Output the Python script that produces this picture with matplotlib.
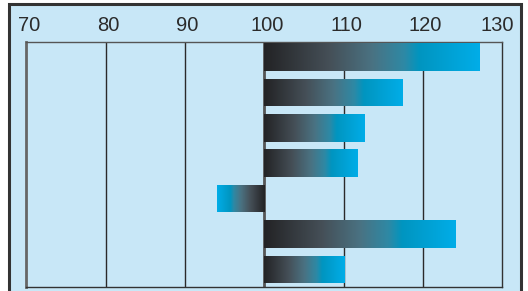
import numpy as np
import matplotlib
matplotlib.use("Agg")
import matplotlib.pyplot as plt
from matplotlib.colors import LinearSegmentedColormap
from matplotlib.patches import Rectangle
from matplotlib.transforms import ScaledTranslation

# Dados do gráfico
base = 100
valores = [127.2, 117.5, 112.7, 111.8, 94.0, 124.1, 110.1]
ticks_x = [70, 80, 90, 100, 110, 120, 130]
linhas_grade = [80, 90, 110, 120]

fundo = "#c8e7f7"
borda = "#333333"

# Gradiente das barras: escuro na base, ciano na ponta
cores = [(0.0, "#232325"), (0.3, "#454f57"), (0.5, "#4a7282"),
         (0.65, "#2e89a5"), (0.72, "#0095c0"), (1.0, "#00ade8")]
cmap = LinearSegmentedColormap.from_list("barra", cores)

fig = plt.figure(figsize=(5.28, 2.91), dpi=100, facecolor="white")

# Moldura externa
W, H = 528, 291
fig.patches.append(Rectangle((8.7 / W, -0.1), (520.8 - 8.7) / W, 1 - 3.7 / H + 0.1,
                             transform=fig.transFigure, facecolor=fundo,
                             edgecolor=borda, lw=2.2, zorder=-10))

ax = fig.add_axes([26.3 / W, 1 - 286.7 / H, (502.3 - 26.3) / W, (286.7 - 41.7) / H])
ax.set_facecolor(fundo)

y = np.arange(len(valores))
altura = 0.78
barras = ax.barh(y, [v - base for v in valores], left=base, height=altura,
                 facecolor="none", edgecolor="none", zorder=3)

grad = np.linspace(0, 1, 256).reshape(1, -1)
for barra, v, yi in zip(barras, valores, y):
    img = ax.imshow(grad, cmap=cmap, aspect="auto", interpolation="bicubic",
                    extent=(base, v, yi + altura / 2, yi - altura / 2), zorder=3)
    img.set_clip_path(barra)

# Linhas de grade verticais
for gx in linhas_grade:
    ax.axvline(gx, color="#2a2a2a", lw=1.0, zorder=2)
ax.axvline(base, color="#555555", lw=2.0, zorder=2)

ax.set_xlim(70, 130)
ax.set_ylim(6.489, -0.432)
ax.set_yticks([])
ax.xaxis.tick_top()
ax.set_xticks(ticks_x)
ax.set_xticklabels([str(t) for t in ticks_x], fontsize=14.5,
                   fontfamily="Liberation Sans", color="#2b2b2b")
ax.tick_params(axis="x", length=0, pad=5)
# rótulos levemente à direita; o último fica para dentro da moldura
for i, rotulo in enumerate(ax.get_xticklabels()):
    dx = -5 if i == len(ticks_x) - 1 else 2.5
    rotulo.set_transform(rotulo.get_transform() + ScaledTranslation(dx / 100, 0, fig.dpi_scale_trans))

for lado, sp in ax.spines.items():
    sp.set_color(borda)
    sp.set_linewidth(1.0)
ax.spines["left"].set_color("#666666")
ax.spines["left"].set_linewidth(2.0)
ax.spines["top"].set_color("#555555")

fig.savefig("out.png", dpi=100, facecolor="white")
